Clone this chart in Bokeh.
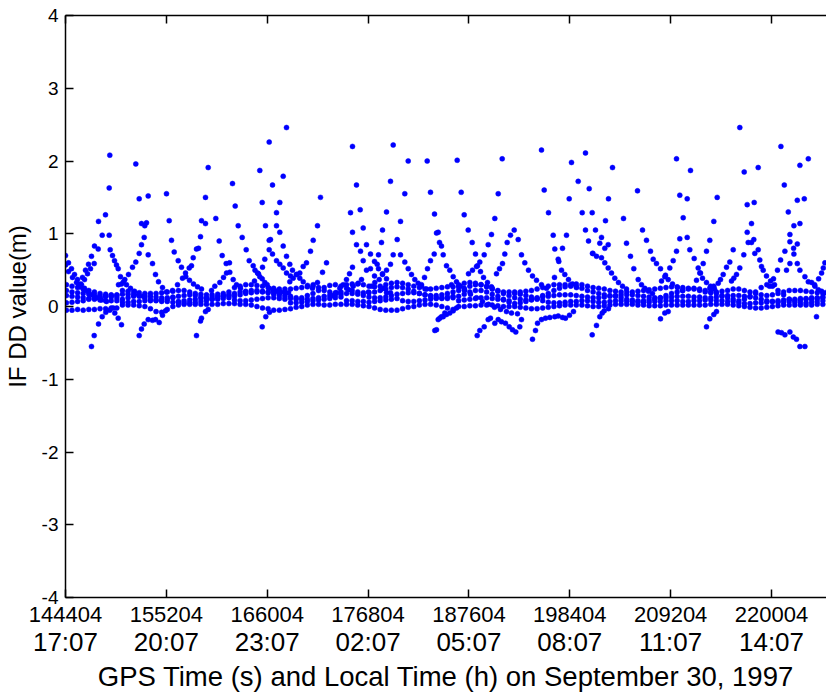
from bokeh.plotting import figure
from bokeh.models import Range1d, FixedTicker, LinearAxis
from bokeh.embed import file_html
from bokeh.resources import INLINE

# ---------------- axis data ----------------
gps_ticks = [144404, 155204, 166004, 176804, 187604, 198404, 209204, 220004]
gps_labels = ["144404", "155204", "166004", "176804", "187604", "198404", "209204", "220004"]
local_labels = ["17:07", "20:07", "23:07", "02:07", "05:07", "08:07", "11:07", "14:07"]
y_ticks = [-4, -3, -2, -1, 0, 1, 2, 3, 4]
y_labels = ["-4", "-3", "-2", "-1", "0", "1", "2", "3", "4"]

# ---------------- near-zero (high elevation) tracks ----------------
base_t = [144500, 145100, 145700, 146300, 146900, 147500, 148100, 148700, 149300, 149900,
          150500, 151100, 151700, 152300, 152900, 153500, 154100, 154700, 155300, 155900,
          156500, 157100, 157700, 158300, 158900, 159500, 160100, 160700, 161300, 161900,
          162500, 163100, 163700, 164300, 164900, 165500, 166100, 166700, 167300, 167900,
          168500, 169100, 169700, 170300, 170900, 171500, 172100, 172700, 173300, 173900,
          174500, 175100, 175700, 176300, 176900, 177500, 178100, 178700, 179300, 179900,
          180500, 181100, 181700, 182300, 182900, 183500, 184100, 184700, 185300, 185900,
          186500, 187100, 187700, 188300, 188900, 189500, 190100, 190700, 191300, 191900,
          192500, 193100, 193700, 194300, 194900, 195500, 196100, 196700, 197300, 197900,
          198500, 199100, 199700, 200300, 200900, 201500, 202100, 202700, 203300, 203900,
          204500, 205100, 205700, 206300, 206900, 207500, 208100, 208700, 209300, 209900,
          210500, 211100, 211700, 212300, 212900, 213500, 214100, 214700, 215300, 215900,
          216500, 217100, 217700, 218300, 218900, 219500, 220100, 220700, 221300, 221900,
          222500, 223100, 223700, 224300, 224900, 225500]
base_low_y = [-0.05, -0.05, -0.04, -0.05, -0.04, -0.04, -0.03, -0.03, -0.02, -0.02,
              0.02, 0.02, 0.02, 0.01, 0.0, -0.03, -0.07, -0.08, -0.04, 0.0,
              0.02, 0.03, 0.03, 0.03, 0.03, 0.03, 0.03, 0.03, 0.04, 0.04,
              0.04, 0.03, 0.03, 0.02, 0.0, -0.02, -0.03, -0.05, -0.05, -0.04,
              -0.03, -0.01, 0.0, 0.02, 0.03, 0.03, 0.02, 0.02, 0.03, 0.03,
              0.03, 0.03, 0.02, 0.01, 0.0, -0.02, -0.04, -0.05, -0.05, -0.05,
              -0.03, -0.01, 0.0, 0.02, 0.03, 0.03, 0.02, 0.0, -0.02, -0.04,
              0.0, 0.0, 0.01, 0.01, 0.02, 0.02, 0.02, 0.01, 0.0, 0.0,
              0.0, -0.01, -0.02, -0.03, -0.03, -0.02, -0.01, 0.0, 0.01, 0.02,
              0.02, 0.02, 0.02, 0.01, 0.0, 0.0, 0.01, 0.02, 0.03, 0.03,
              0.03, 0.03, 0.02, 0.02, 0.01, 0.01, 0.01, 0.02, 0.02, 0.02,
              0.02, 0.02, 0.02, 0.02, 0.02, 0.03, 0.03, 0.03, 0.03, 0.02,
              0.01, 0.0, -0.01, -0.02, -0.02, -0.01, 0.0, 0.01, 0.02, 0.02,
              0.02, 0.02, 0.02, 0.02, 0.03, 0.03]
base_b_y = [0.22, 0.20, 0.19, 0.18, 0.17, 0.16, 0.15, 0.14, 0.13, 0.12,
            0.06, 0.06, 0.07, 0.07, 0.08, 0.08, 0.08, 0.07, 0.07, 0.06,
            0.07, 0.08, 0.09, 0.10, 0.11, 0.12, 0.13, 0.14, 0.15, 0.15,
            0.09, 0.08, 0.08, 0.09, 0.10, 0.11, 0.12, 0.12, 0.11, 0.10,
            0.05, 0.05, 0.06, 0.07, 0.08, 0.09, 0.10, 0.11, 0.12, 0.13,
            0.08, 0.08, 0.07, 0.07, 0.06, 0.07, 0.08, 0.09, 0.10, 0.11,
            0.08, 0.07, 0.07, 0.08, 0.09, 0.10, 0.11, 0.12, 0.13, 0.14,
            0.08, 0.09, 0.10, 0.11, 0.12, 0.12, 0.11, 0.10, 0.09, 0.08,
            0.18, 0.17, 0.15, 0.13, 0.10, 0.08, 0.06, 0.05, 0.05, 0.06,
            0.07, 0.07, 0.08, 0.08, 0.07, 0.06, 0.06, 0.07, 0.08, 0.08,
            0.07, 0.07, 0.06, 0.06, 0.06, 0.07, 0.07, 0.08, 0.08, 0.08,
            0.07, 0.07, 0.08, 0.08, 0.09, 0.09, 0.08, 0.08, 0.07, 0.07,
            0.05, 0.04, 0.04, 0.05, 0.05, 0.06, 0.07, 0.08, 0.09, 0.10,
            0.10, 0.11, 0.11, 0.12, 0.12, 0.13]
base_mid_y = [0.15, 0.14, 0.13, 0.12, 0.11, 0.10, 0.09, 0.08, 0.08, 0.08,
              0.10, 0.12, 0.14, 0.15, 0.15, 0.14, 0.13, 0.12, 0.12, 0.13,
              0.14, 0.15, 0.16, 0.15, 0.13, 0.11, 0.10, 0.10, 0.11, 0.12,
              0.14, 0.16, 0.18, 0.19, 0.20, 0.20, 0.20, 0.19, 0.18, 0.16,
              0.14, 0.12, 0.10, 0.10, 0.11, 0.12, 0.14, 0.15, 0.16, 0.17,
              0.18, 0.18, 0.17, 0.15, 0.13, 0.12, 0.12, 0.13, 0.15, 0.17,
              0.18, 0.19, 0.19, 0.18, 0.16, 0.14, 0.12, 0.11, 0.11, 0.12,
              0.14, 0.17, 0.20, 0.22, 0.22, 0.20, 0.17, 0.14, 0.10, 0.06,
              0.04, 0.05, 0.07, 0.09, 0.11, 0.13, 0.14, 0.15, 0.16, 0.16,
              0.16, 0.15, 0.14, 0.13, 0.12, 0.12, 0.13, 0.14, 0.15, 0.16,
              0.16, 0.16, 0.15, 0.14, 0.13, 0.12, 0.12, 0.12, 0.13, 0.14,
              0.14, 0.14, 0.13, 0.13, 0.12, 0.12, 0.13, 0.14, 0.15, 0.15,
              0.15, 0.14, 0.13, 0.12, 0.10, 0.08, 0.07, 0.06, 0.06, 0.07,
              0.08, 0.09, 0.10, 0.10, 0.11, 0.12]
base_high_y = [0.05, 0.06, 0.07, 0.08, 0.10, 0.12, 0.13, 0.14, 0.15, 0.16,
               0.17, 0.17, 0.16, 0.14, 0.12, 0.10, 0.09, 0.09, 0.10, 0.12,
               0.06, 0.05, 0.05, 0.06, 0.07, 0.08, 0.10, 0.12, 0.14, 0.16,
               0.18, 0.20, 0.21, 0.22, 0.22, 0.21, 0.19, 0.17, 0.15, 0.13,
               0.11, 0.10, 0.12, 0.15, 0.18, 0.22, 0.26, 0.29, 0.30, 0.28,
               0.25, 0.22, 0.20, 0.19, 0.19, 0.20, 0.22, 0.24, 0.26, 0.27,
               0.26, 0.24, 0.21, 0.18, 0.16, 0.15, 0.15, 0.16, 0.18, 0.20,
               0.22, 0.25, 0.28, 0.30, 0.30, 0.28, 0.25, 0.22, 0.18, 0.15,
               0.12, 0.10, 0.09, 0.10, 0.12, 0.15, 0.18, 0.22, 0.25, 0.27,
               0.28, 0.27, 0.25, 0.22, 0.20, 0.18, 0.16, 0.15, 0.14, 0.12,
               0.10, 0.09, 0.08, 0.08, 0.09, 0.10, 0.12, 0.15, 0.18, 0.20,
               0.22, 0.24, 0.25, 0.24, 0.22, 0.20, 0.18, 0.15, 0.12, 0.10,
               0.08, 0.10, 0.14, 0.20, 0.26, 0.30, 0.28, 0.22, 0.16, 0.10,
               0.06, 0.05, 0.05, 0.06, 0.07, 0.08]
base_top_y = [0.30, 0.28, 0.26, 0.24, 0.22, 0.20, 0.18, 0.17, 0.16, 0.15,
              0.22, 0.21, 0.20, 0.19, 0.18, 0.18, 0.18, 0.19, 0.20, 0.21,
              0.22, 0.22, 0.20, 0.18, 0.17, 0.16, 0.16, 0.17, 0.18, 0.20,
              0.26, 0.28, 0.30, 0.30, 0.29, 0.28, 0.26, 0.25, 0.24, 0.24,
              0.24, 0.25, 0.26, 0.27, 0.28, 0.26, 0.22, 0.20, 0.19, 0.20,
              0.30, 0.31, 0.31, 0.30, 0.28, 0.27, 0.28, 0.30, 0.32, 0.33,
              0.32, 0.30, 0.28, 0.26, 0.24, 0.24, 0.25, 0.26, 0.27, 0.27,
              0.30, 0.32, 0.33, 0.32, 0.30, 0.27, 0.24, 0.21, 0.20, 0.20,
              0.20, 0.20, 0.21, 0.22, 0.24, 0.26, 0.28, 0.30, 0.30, 0.30,
              0.30, 0.31, 0.30, 0.28, 0.26, 0.25, 0.24, 0.22, 0.21, 0.20,
              0.20, 0.20, 0.21, 0.22, 0.23, 0.24, 0.25, 0.26, 0.27, 0.27,
              0.26, 0.25, 0.24, 0.22, 0.20, 0.19, 0.20, 0.21, 0.22, 0.24,
              0.24, 0.22, 0.20, 0.18, 0.16, 0.15, 0.16, 0.18, 0.20, 0.22,
              0.22, 0.22, 0.21, 0.20, 0.19, 0.18]

# ---------------- low-elevation arcs, 17:07 - 23:07 ----------------
arc_a1_t = [144404, 144725, 145046, 145368, 145689, 146010, 146439, 146867, 147296, 147723, 148259, 148794]
arc_a1_y = [0.70, 0.60, 0.52, 0.44, 0.37, 0.31, 0.25, 0.20, 0.16, 0.12, 0.09, 0.07]
arc_a2_t = [144404, 144725, 145153, 145582, 146010, 146439, 146974, 147509, 148152]
arc_a2_y = [0.57, 0.48, 0.40, 0.33, 0.27, 0.22, 0.17, 0.13, 0.10]
arc_a3_t = [145796, 146224, 146546, 146867, 147188, 147509, 147938, 148687, 149083, 149148,
            146117, 146439, 146760, 147081, 147477, 147906, 148334]
arc_a3_y = [0.28, 0.40, 0.50, 0.58, 0.69, 0.83, 1.17, 1.26, 1.63, 2.08,
            0.30, 0.37, 0.45, 0.52, 0.59, 0.79, 0.98]
arc_a4_t = [149083, 149190, 149437, 149651, 149865, 150047, 150293, 150615, 150936, 151364, 151793, 152221, 152756]
arc_a4_y = [0.98, 0.78, 0.70, 0.63, 0.57, 0.52, 0.41, 0.34, 0.30, 0.25, 0.21, 0.17, 0.14]
arc_a5_t = [150079, 150400, 150754, 151150, 151578, 151932, 152296, 152542, 152831, 153077, 153259,
            151932, 152296, 152542, 152895, 153259, 153720, 154041, 154362, 154791, 155219]
arc_a5_y = [0.30, 0.31, 0.37, 0.44, 0.54, 0.61, 0.73, 0.85, 0.95, 1.15, 1.52,
            1.96, 1.48, 1.14, 1.11, 0.71, 0.59, 0.44, 0.34, 0.26, 0.20]
arc_a6_t = [155219, 155508, 155754, 156044, 156472, 156825, 157286, 157682, 158110, 158539, 158967]
arc_a6_y = [1.55, 1.18, 0.91, 0.75, 0.63, 0.54, 0.41, 0.36, 0.31, 0.27, 0.24]
arc_a7_t = [155862, 156397, 156932, 157650, 158078, 158431, 158860, 158967, 159395, 159684,
            157254, 157896, 158646, 159395]
arc_a7_y = [0.22, 0.30, 0.39, 0.53, 0.67, 0.79, 0.96, 1.18, 1.50, 1.91,
            0.46, 0.56, 0.80, 1.14]
arc_a8_t = [160498, 160862, 161183, 161611, 161997, 162361, 162715, 163143, 163678]
arc_a8_y = [1.21, 0.90, 0.70, 0.59, 0.47, 0.37, 0.30, 0.25, 0.20]
arc_a9_t = [160038, 160391, 160927, 161323, 161644, 161965, 162286]
arc_a9_y = [0.22, 0.28, 0.33, 0.40, 0.46, 0.60, 1.69]
arc_a10_t = [162576, 162897, 163325, 163754, 164075, 164503, 164696, 164963, 165210, 165467,
             165745, 166002, 166216, 166645, 166998, 167426, 167855, 168283]
arc_a10_y = [1.38, 1.11, 0.95, 0.78, 0.63, 0.56, 0.50, 0.46, 0.41, 0.38,
             0.33, 0.30, 0.25, 0.22, 0.21, 0.20, 0.20, 0.19]
neg_a_t = [147188, 147477, 147938, 148334, 148719, 149148, 149512,
           149683, 150047, 150400,
           152296, 152542, 152831, 153259, 153720, 154041, 154437, 154791, 155112,
           158431, 158860, 158967, 159395, 159684]
neg_a_y = [-0.55, -0.40, -0.24, -0.14, -0.08, -0.05, -0.02,
           -0.09, -0.16, -0.25,
           -0.40, -0.31, -0.24, -0.18, -0.19, -0.18, -0.22, -0.12, -0.06,
           -0.40, -0.20, -0.16, -0.07, -0.04]

# ---------------- arcs, 23:07 - 05:07 ----------------
arc_b1_t = [165210, 165467, 165820, 166216, 166570, 166998, 167351, 167715, 168069, 168497]
arc_b1_y = [1.87, 1.43, 1.11, 0.91, 0.72, 0.63, 0.58, 0.53, 0.46, 0.42]
arc_b2_t = [166216, 166570, 166998, 167351, 167715, 168069, 168422, 168711, 169139, 169493, 169857, 170317, 170852]
arc_b2_y = [2.26, 1.67, 1.29, 1.02, 0.83, 0.69, 0.58, 0.50, 0.44, 0.39, 0.34, 0.29, 0.25]
arc_b3_t = [164642, 165070, 165499, 165745, 166216, 166355, 166998, 167351, 167715, 168069]
arc_b3_y = [0.35, 0.45, 0.54, 0.65, 0.78, 0.92, 1.11, 1.43, 1.79, 2.46]
arc_b4_t = [168422, 168786, 169139, 169493, 169857, 170210, 170639, 170928, 171388, 171709,
            170928, 171388, 171924, 172352]
arc_b4_y = [0.34, 0.39, 0.44, 0.46, 0.55, 0.60, 0.76, 0.91, 1.11, 1.50,
            0.30, 0.33, 0.47, 0.60]
arc_b5_t = [172995, 173423, 173776, 174140, 174493, 174815, 175136, 174922, 175136, 175136,
            175564, 175960, 176282, 176635, 177063, 177492, 177920, 178349, 178777]
arc_b5_y = [0.15, 0.19, 0.25, 0.30, 0.37, 0.45, 0.54, 1.29, 1.02, 2.20,
            1.67, 1.33, 1.08, 0.85, 0.72, 0.62, 0.52, 0.45, 0.38]
arc_b6_t = [175564, 175993, 176282, 176635, 177063, 177492,
            174740, 175211, 175746, 176100]
arc_b6_y = [0.85, 0.76, 0.63, 0.50, 0.52, 0.42,
            0.23, 0.28, 0.32, 0.37]
arc_b7_t = [176849, 177170, 177524, 177781, 177920, 178241, 178349, 178777, 179205, 179494]
arc_b7_y = [0.20, 0.28, 0.33, 0.58, 0.71, 0.88, 1.05, 1.30, 1.72, 2.22]
arc_b8_t = [177995, 178349, 178777, 179205, 179494, 179922, 180276, 180736, 181101,
            178241, 178530, 178777, 179205]
arc_b8_y = [0.37, 0.44, 0.50, 0.58, 0.71, 0.92, 1.17, 1.55, 2.00,
            0.24, 0.25, 0.19, 0.19]
arc_b9_t = [180276, 180736, 181101, 181454, 181808, 182168, 182524, 183060]
arc_b9_y = [0.71, 0.61, 0.52, 0.44, 0.37, 0.32, 0.28, 0.24]
arc_b10_t = [183135, 183488, 183917, 184313, 184452, 184666, 184848, 185201, 185555, 185919, 186272, 186700, 187129]
arc_b10_y = [2.00, 1.57, 1.27, 1.02, 0.88, 0.83, 0.71, 0.56, 0.50, 0.41, 0.34, 0.28, 0.23]
arc_b11_t = [182524, 182846, 183167, 183488, 183885, 184131]
arc_b11_y = [0.30, 0.40, 0.52, 0.63, 0.72, 1.01]
neg_b_t = [165467, 165852, 166248,
           183949, 184131, 184313, 184484, 184666, 184848, 185019, 185201, 185555, 185919, 186272]
neg_b_y = [-0.28, -0.14, -0.08,
           -0.33, -0.32, -0.18, -0.16, -0.14, -0.14, -0.09, -0.11, -0.09, -0.06, -0.02]

# ---------------- arcs, 05:07 - 11:07 ----------------
arc_c1_t = [186347, 186775, 187096, 187525, 187953, 188307, 188521, 188842, 189164, 189592, 190020]
arc_c1_y = [2.01, 1.57, 1.26, 1.05, 0.88, 0.72, 0.56, 0.48, 0.40, 0.33, 0.27]
arc_c2_t = [187557, 187985, 188414, 188767, 189239, 189667, 190020, 190374, 190738, 191166]
arc_c2_y = [0.45, 0.50, 0.55, 0.61, 0.71, 0.85, 0.99, 1.21, 1.55, 2.03]
arc_c3_t = [190555, 190876, 191198, 191444, 191701, 192055, 192451,
            192879, 193232, 193586, 193982, 194410, 194839, 195374, 195909]
arc_c3_y = [0.45, 0.52, 0.59, 0.72, 0.88, 0.98, 1.05,
            0.92, 0.71, 0.60, 0.50, 0.42, 0.36, 0.30, 0.25]
arc_c4_t = [195374, 195663, 196124, 196627, 196798, 197162, 197516, 197869, 198265, 198694, 199122]
arc_c4_y = [2.15, 1.60, 1.29, 0.98, 0.79, 0.65, 0.50, 0.44, 0.37, 0.31, 0.26]
arc_c5_t = [196766, 197227, 197623, 198051, 198340, 198586,
            199303, 199732, 200085, 200407, 200835]
arc_c5_y = [0.40, 0.62, 0.80, 0.98, 1.48, 1.98,
            1.72, 1.29, 1.05, 0.90, 0.73]
arc_c6_t = [200085, 200482, 200803, 201156, 201617, 202152, 202516]
arc_c6_y = [2.11, 1.62, 1.29, 1.05, 0.87, 0.80, 0.85]
arc_c7_t = [200878, 201263, 201799, 202152, 202516, 202870, 203223, 203619, 204048, 204476]
arc_c7_y = [0.73, 0.69, 0.67, 0.60, 0.53, 0.46, 0.39, 0.33, 0.28, 0.24]
arc_c8_t = [201799, 202227, 202548, 202977,
            204155, 204476, 204904, 205258, 205729, 206082, 206436, 206832, 207260]
arc_c8_y = [0.95, 1.18, 1.48, 1.91,
            1.21, 0.87, 0.69, 0.52, 0.37, 0.30, 0.25, 0.21, 0.18]
arc_c9_t = [185737, 186486, 187129, 187771, 188414, 189056, 189699, 190341, 190984, 191626, 192162, 192804]
arc_c9_y = [0.30, 0.27, 0.22, 0.17, 0.12, 0.07, 0.03, -0.01, -0.04, -0.07, -0.09, -0.10]
neg_c_t = [188489, 188767, 189239, 189667, 189913, 190374, 190738, 191091, 191519, 191915,
           192269, 192622, 193051, 193232,
           194410, 194731, 194946, 195374, 195802, 196263, 196798, 197162, 197623, 197944,
           198372, 198800,
           200803, 201263, 201617, 201874, 202088, 202548]
neg_c_y = [-0.40, -0.33, -0.28, -0.18, -0.16, -0.23, -0.18, -0.21, -0.23, -0.28,
           -0.32, -0.35, -0.28, -0.18,
           -0.45, -0.33, -0.23, -0.18, -0.16, -0.15, -0.14, -0.13, -0.15, -0.16,
           -0.12, -0.07,
           -0.39, -0.26, -0.14, -0.09, -0.06, -0.03]

# ---------------- arcs, 11:07 - 15:00 ----------------
arc_d1_t = [205654, 206190, 206617, 207046, 207335, 207688, 208117, 208577, 208941, 209401, 209937, 210472]
arc_d1_y = [1.59, 1.05, 0.91, 0.76, 0.65, 0.59, 0.52, 0.41, 0.37, 0.31, 0.26, 0.22]
arc_d2_t = [208224, 208652, 209112, 209476, 209830, 210183, 210547, 210976, 211329, 209830, 210183]
arc_d2_y = [0.35, 0.43, 0.53, 0.63, 0.76, 0.93, 1.22, 1.48, 1.87, 2.03, 1.53]
arc_d3_t = [210976, 211254, 211725, 212153, 212324, 212614, 213042, 213470, 213899]
arc_d3_y = [0.95, 0.78, 0.66, 0.53, 0.46, 0.39, 0.33, 0.28, 0.24]
arc_d4_t = [211971, 212400, 212689, 213042, 213395, 213824, 214188]
arc_d4_y = [0.36, 0.46, 0.59, 0.76, 0.91, 1.17, 1.50]
arc_d5_t = [213395, 213824, 214295, 214541, 214830, 215184, 215537, 215901, 216608]
arc_d5_y = [0.25, 0.28, 0.32, 0.37, 0.44, 0.54, 0.61, 0.78, 2.46]
arc_d6_t = [215719, 215966, 216255, 216608, 217036, 217400, 217400, 217079]
arc_d6_y = [0.35, 0.39, 0.44, 0.53, 0.71, 1.02, 1.40, 1.85]
arc_d7_t = [217507, 217861, 217861, 218150, 218107, 218214, 218578, 218749, 218932, 219114,
            219467, 219896, 220324, 218578]
arc_d7_y = [0.88, 1.14, 0.88, 1.43, 0.92, 0.73, 0.78, 0.64, 0.55, 0.50,
            0.42, 0.35, 0.30, 1.91]
arc_d8_t = [219789, 220217, 220645, 220977, 221437, 221973, 222401, 222765, 223043]
arc_d8_y = [0.28, 0.38, 0.50, 0.64, 0.76, 0.89, 1.11, 1.46, 1.94]
arc_d9_t = [221009, 221373, 221801, 221973, 222369, 222765, 223043, 223579, 223943, 224297,
            224650, 225014, 225367, 225796]
arc_d9_y = [2.20, 1.67, 1.30, 0.99, 0.80, 0.59, 0.50, 0.41, 0.34, 0.33,
            0.28, 0.23, 0.21, 0.19]
arc_d10_t = [221609, 221973, 222401, 222765, 223043, 223514, 223943,
             224618, 225046, 225367, 225549, 225721]
arc_d10_y = [0.50, 0.59, 0.72, 0.86, 1.14, 1.48, 2.03,
             0.30, 0.38, 0.46, 0.53, 0.60]
neg_d_t = [208117, 208577, 208941,
           213042, 213395, 213824, 214113,
           220706, 221073, 221437, 221973, 222337, 222679, 223043, 223579,
           224821]
neg_d_y = [-0.17, -0.09, -0.07,
           -0.28, -0.17, -0.11, -0.07,
           -0.35, -0.36, -0.39, -0.35, -0.42, -0.45, -0.55, -0.55,
           -0.14]

series = [
    (base_t, base_low_y), (base_t, base_b_y), (base_t, base_mid_y), (base_t, base_high_y),
    (base_t, base_top_y),
    (arc_a1_t, arc_a1_y), (arc_a2_t, arc_a2_y), (arc_a3_t, arc_a3_y), (arc_a4_t, arc_a4_y),
    (arc_a5_t, arc_a5_y), (arc_a6_t, arc_a6_y), (arc_a7_t, arc_a7_y), (arc_a8_t, arc_a8_y),
    (arc_a9_t, arc_a9_y), (arc_a10_t, arc_a10_y), (neg_a_t, neg_a_y),
    (arc_b1_t, arc_b1_y), (arc_b2_t, arc_b2_y), (arc_b3_t, arc_b3_y), (arc_b4_t, arc_b4_y),
    (arc_b5_t, arc_b5_y), (arc_b6_t, arc_b6_y), (arc_b7_t, arc_b7_y), (arc_b8_t, arc_b8_y),
    (arc_b9_t, arc_b9_y), (arc_b10_t, arc_b10_y), (arc_b11_t, arc_b11_y), (neg_b_t, neg_b_y),
    (arc_c1_t, arc_c1_y), (arc_c2_t, arc_c2_y), (arc_c3_t, arc_c3_y), (arc_c4_t, arc_c4_y),
    (arc_c5_t, arc_c5_y), (arc_c6_t, arc_c6_y), (arc_c7_t, arc_c7_y), (arc_c8_t, arc_c8_y),
    (arc_c9_t, arc_c9_y), (neg_c_t, neg_c_y),
    (arc_d1_t, arc_d1_y), (arc_d2_t, arc_d2_y), (arc_d3_t, arc_d3_y), (arc_d4_t, arc_d4_y),
    (arc_d5_t, arc_d5_y), (arc_d6_t, arc_d6_y), (arc_d7_t, arc_d7_y), (arc_d8_t, arc_d8_y),
    (arc_d9_t, arc_d9_y), (arc_d10_t, arc_d10_y), (neg_d_t, neg_d_y),
]

FONT = "Liberation Sans"
BLUE = "#0000ff"

p = figure(frame_width=761, frame_height=582, output_backend="svg", toolbar_location=None,
           x_range=Range1d(144404, 225892), y_range=Range1d(-4, 4),
           min_border_left=61, min_border_right=0, min_border_top=8, min_border_bottom=0)
p.outline_line_color = None
p.grid.visible = False
p.background_fill_color = "white"
p.border_fill_color = "white"

for xs, ys in series:
    p.scatter(xs, ys, size=5, marker="circle", fill_color=BLUE, line_color=BLUE, line_width=0.5)

# y axis (left)
ya = p.yaxis[0]
ya.ticker = FixedTicker(ticks=y_ticks)
ya.major_label_overrides = {v: s for v, s in zip(y_ticks, y_labels)}
ya.minor_tick_line_color = None
ya.major_tick_in = 8
ya.major_tick_out = 0
ya.major_tick_line_width = 1.5
ya.axis_line_width = 1.5
ya.major_label_standoff = 7
ya.major_label_text_font = FONT
ya.major_label_text_font_size = "19px"
ya.major_label_text_color = "black"
ya.axis_label = "IF DD value(m)"
ya.axis_label_text_font = FONT
ya.axis_label_text_font_size = "24px"
ya.axis_label_text_font_style = "normal"
ya.axis_label_text_color = "black"
ya.axis_label_standoff = 8

# bottom axis 1 (GPS seconds)
xa = p.xaxis[0]
xa.ticker = FixedTicker(ticks=gps_ticks)
xa.major_label_overrides = {v: s for v, s in zip(gps_ticks, gps_labels)}
xa.minor_tick_line_color = None
xa.major_tick_in = 8
xa.major_tick_out = 0
xa.major_tick_line_width = 1.5
xa.axis_line_width = 1.5
xa.major_label_standoff = 9
xa.major_label_text_font = FONT
xa.major_label_text_font_size = "22px"
xa.major_label_text_color = "black"

# bottom axis 2 (local time)
xb = LinearAxis(ticker=FixedTicker(ticks=gps_ticks),
                major_label_overrides={v: s for v, s in zip(gps_ticks, local_labels)})
xb.axis_line_color = None
xb.major_tick_line_color = None
xb.minor_tick_line_color = None
xb.major_tick_in = 0
xb.major_tick_out = 0
xb.major_label_standoff = 2
xb.major_label_text_font = FONT
xb.major_label_text_font_size = "26px"
xb.major_label_text_color = "black"
xb.axis_label = "GPS Time (s) and Local Time (h) on September 30, 1997"
xb.axis_label_text_font = FONT
xb.axis_label_text_font_size = "27.5px"
xb.axis_label_text_font_style = "normal"
xb.axis_label_text_color = "black"
xb.axis_label_standoff = 1
p.add_layout(xb, "below")

# top axis (ticks only; blank labels reserve the space above the frame)
xt = LinearAxis(ticker=FixedTicker(ticks=gps_ticks),
                major_label_overrides={v: " " for v in gps_ticks})
xt.minor_tick_line_color = None
xt.major_tick_in = 8
xt.major_tick_out = 0
xt.major_tick_line_width = 1.5
xt.axis_line_width = 1.5
xt.major_label_standoff = 1
xt.major_label_text_font = FONT
xt.major_label_text_font_size = "10px"
p.add_layout(xt, "above")

open("out.html", "w").write(file_html(p, INLINE))
